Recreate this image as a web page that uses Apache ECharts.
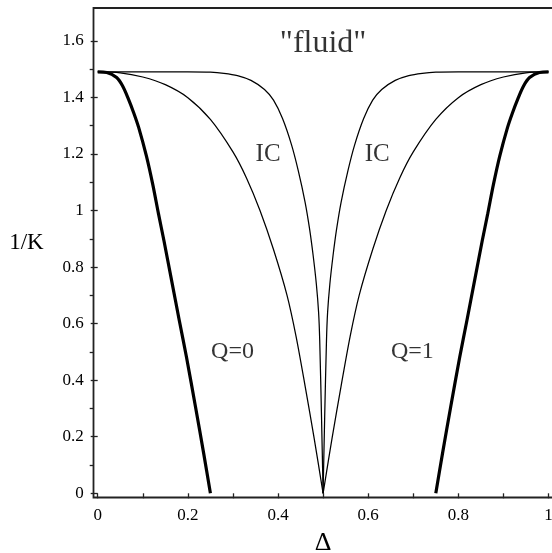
<!DOCTYPE html>
<html><head><meta charset="utf-8">
<script src="https://cdn.jsdelivr.net/npm/echarts@6/dist/echarts.min.js"></script>
<style>html,body{margin:0;padding:0;background:#fff}#c{width:552px;height:553px}</style>
</head><body><div id="c"></div>
<script>
// ---- data ----
const xTickValues = [0, 0.2, 0.4, 0.6, 0.8, 1];
const yTickValues = [0, 0.2, 0.4, 0.6, 0.8, 1, 1.2, 1.4, 1.6];
const yMinorValues = [0.1, 0.3, 0.5, 0.7, 0.9, 1.1, 1.3, 1.5];

// thick curve Q=0
const q0Delta = [0, 0.02, 0.042, 0.055, 0.068, 0.08, 0.091, 0.108, 0.122, 0.135, 0.147, 0.164, 0.181, 0.197, 0.217, 0.235, 0.25];
const q0Value = [1.49, 1.488, 1.47, 1.441, 1.395, 1.345, 1.293, 1.193, 1.093, 0.987, 0.893, 0.752, 0.611, 0.481, 0.305, 0.142, 0];
// thick curve Q=1
const q1Delta = [1, 0.98, 0.958, 0.945, 0.932, 0.92, 0.909, 0.892, 0.878, 0.865, 0.853, 0.836, 0.819, 0.803, 0.783, 0.765, 0.75];
const q1Value = [1.49, 1.488, 1.47, 1.441, 1.395, 1.345, 1.293, 1.193, 1.093, 0.987, 0.893, 0.752, 0.611, 0.481, 0.305, 0.142, 0];
// thin IC curves, left side
const icInnerLeftDelta = [0, 0.05, 0.1, 0.15, 0.2, 0.25, 0.3, 0.33, 0.36, 0.39, 0.42, 0.44, 0.46, 0.48, 0.5];
const icInnerLeftValue = [1.49, 1.487, 1.472, 1.445, 1.399, 1.322, 1.207, 1.115, 1.0, 0.862, 0.70, 0.555, 0.38, 0.196, 0];
const icOuterLeftDelta = [0, 0.1, 0.2, 0.25, 0.28, 0.31, 0.34, 0.37, 0.39, 0.41, 0.43, 0.445, 0.46, 0.47, 0.478, 0.485, 0.49, 0.4925, 0.4965, 0.5];
const icOuterLeftValue = [1.49, 1.49, 1.49, 1.489, 1.485, 1.477, 1.46, 1.428, 1.39, 1.325, 1.232, 1.14, 1.03, 0.935, 0.84, 0.74, 0.64, 0.54, 0.27, 0];
// thin IC curves, right side
const icInnerRightDelta = [1, 0.95, 0.9, 0.85, 0.8, 0.75, 0.7, 0.67, 0.64, 0.61, 0.58, 0.56, 0.54, 0.52, 0.5];
const icInnerRightValue = [1.49, 1.487, 1.472, 1.445, 1.399, 1.322, 1.207, 1.115, 1.0, 0.862, 0.70, 0.555, 0.38, 0.196, 0];
const icOuterRightDelta = [1, 0.9, 0.8, 0.75, 0.72, 0.69, 0.66, 0.63, 0.61, 0.59, 0.57, 0.555, 0.54, 0.53, 0.522, 0.515, 0.51, 0.5075, 0.5035, 0.5];
const icOuterRightValue = [1.49, 1.49, 1.49, 1.489, 1.485, 1.477, 1.46, 1.428, 1.39, 1.325, 1.232, 1.14, 1.03, 0.935, 0.84, 0.74, 0.64, 0.54, 0.27, 0];

// annotations
const noteTexts = ['"fluid"', 'IC', 'IC', 'Q=0', 'Q=1'];
const noteDelta = [0.5, 0.378, 0.62, 0.299, 0.698];
const noteValue = [1.59, 1.197, 1.197, 0.501, 0.501];
const noteSizes = [32, 25, 25, 24, 24];

// ---- chart ----
const zip = (xs, ys) => xs.map((x, i) => [x, ys[i]]);
const FONT = 'Liberation Serif';
const AX = '#222';

const thin = { color: '#000', width: 1.25 };
const thick = { color: '#000', width: 3.2 };
function curve(name, xs, ys, style) {
  return { name, type: 'line', data: zip(xs, ys), showSymbol: false, symbol: 'none',
    smooth: 0.3, lineStyle: style, itemStyle: { color: '#000' }, z: 3, animation: false };
}

const chart = echarts.init(document.getElementById('c'), null, { renderer: 'canvas' });
chart.setOption({
  animation: false,
  backgroundColor: '#fff',
  grid: { left: 97.7, right: 3.5, top: 8, bottom: 59.7, containLabel: false, outerBoundsMode: 'none' },
  xAxis: [{
    type: 'value', min: 0, max: 1, interval: 0.1, offset: 4,
    name: 'Δ', nameLocation: 'middle', nameGap: 33,
    nameTextStyle: { fontFamily: FONT, fontSize: 26, color: '#000' },
    axisLine: { show: false },
    axisTick: { show: true, length: 5, lineStyle: { color: AX, width: 1.3 } },
    axisLabel: { customValues: xTickValues, fontFamily: FONT, fontSize: 17, color: '#000', margin: 10,
      formatter: v => String(+v.toFixed(1)) },
    splitLine: { show: false }
  }],
  yAxis: [{
    type: 'value', min: 0, max: 1.716, offset: 4,
    name: '1/K', nameLocation: 'middle', nameGap: 50, nameRotate: 0,
    nameTextStyle: { fontFamily: FONT, fontSize: 23, color: '#000', verticalAlign: 'bottom', lineHeight: 15 },
    axisLine: { show: false },
    axisTick: { show: true, length: 7, customValues: yTickValues, lineStyle: { color: AX, width: 1.3 } },
    axisLabel: { customValues: yTickValues, fontFamily: FONT, fontSize: 17, color: '#000', margin: 10,
      formatter: v => String(+v.toFixed(1)) },
    splitLine: { show: false }
  }, {
    type: 'value', min: 0, max: 1.716, offset: 4, position: 'left',
    axisLine: { show: false },
    axisTick: { show: true, length: 4, customValues: yMinorValues, lineStyle: { color: AX, width: 1.3 } },
    axisLabel: { show: false },
    splitLine: { show: false }
  }],
  graphic: [{
    type: 'polyline', silent: true, z: 10,
    shape: { points: [[552, 8], [93.5, 8], [93.5, 497.5], [552, 497.5]] },
    style: { stroke: AX, lineWidth: 1.8, fill: null }
  }],
  series: [
    curve('Q=0', q0Delta, q0Value, thick),
    curve('Q=1', q1Delta, q1Value, thick),
    curve('IC inner left', icInnerLeftDelta, icInnerLeftValue, thin),
    curve('IC outer left', icOuterLeftDelta, icOuterLeftValue, thin),
    curve('IC inner right', icInnerRightDelta, icInnerRightValue, thin),
    curve('IC outer right', icOuterRightDelta, icOuterRightValue, thin),
    {
      type: 'scatter', symbolSize: 0, z: 5, silent: true,
      data: noteTexts.map((t, i) => ({ value: [noteDelta[i], noteValue[i]],
        label: { show: true, position: 'inside', formatter: t, fontFamily: FONT, fontSize: noteSizes[i], color: '#000', textBorderWidth: 0 } }))
    }
  ]
});
</script></body></html>
